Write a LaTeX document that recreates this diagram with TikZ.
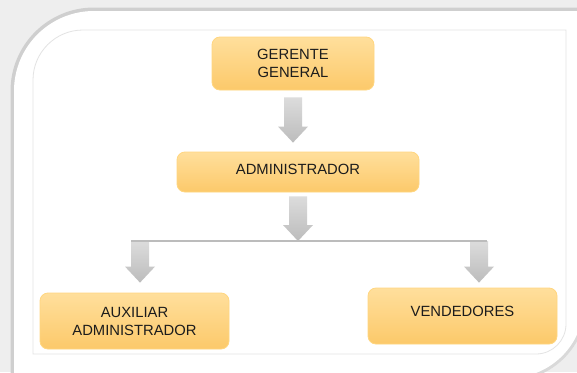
\documentclass[tikz,border=0pt]{standalone}
\usepackage{fontspec}
\setmainfont{Liberation Sans}
\usetikzlibrary{calc}
\definecolor{cajaarriba}{RGB}{255,223,156}
\definecolor{cajaabajo}{RGB}{252,201,106}
\definecolor{cajaborde}{RGB}{255,214,128}
\definecolor{flechaarriba}{RGB}{220,220,220}
\definecolor{flechaabajo}{RGB}{188,188,188}
\definecolor{texto}{RGB}{28,28,28}
% flecha gruesa vertical: #1 origen, #2 destino, #3 hueco arriba, #4 hueco abajo
\newcommand{\flechagruesa}[4]{%
\shade[flecha] let \p1=(#1), \p2=(#2) in
 (\x1-9pt,\y1-#3pt)--(\x1+9pt,\y1-#3pt)--(\x1+9pt,\y2+#4pt+16pt)--(\x1+15pt,\y2+#4pt+16pt)
 --(\x1,\y2+#4pt)--(\x1-15pt,\y2+#4pt+16pt)--(\x1-9pt,\y2+#4pt+16pt)--cycle;}
\begin{document}
\begin{tikzpicture}[x=1pt,y=-1pt,
 cargo/.style={draw=cajaborde,line width=0.8pt,rounded corners=8pt,top color=cajaarriba,bottom color=cajaabajo,
  text=texto,font=\fontsize{14.8}{18}\selectfont,align=center,inner sep=0pt},
 flecha/.style={top color=flechaarriba,bottom color=flechaabajo},
 rama/.style={draw=flechaabajo,line width=2.5pt}]
\useasboundingbox (0,0) rectangle (577,372);
% fondo y marco
\fill[gray!13] (0,0) rectangle (577,372);
\draw[gray!38,line width=7pt] (14,400)--(14,91) arc[start angle=180,end angle=90,radius=80pt]--(600,11)--(600,0);
\draw[gray!30,line width=6pt] (584,290)--(584,303) arc[start angle=0,end angle=-90,radius=75pt]--(480,378);
\fill[white] (14,400)--(14,91) arc[start angle=180,end angle=90,radius=80pt]--(584,11)--(584,303)
 arc[start angle=0,end angle=-90,radius=75pt]--(14,378)--cycle;
\draw[gray!22,line width=0.8pt] (33,354)--(33,80) arc[start angle=180,end angle=90,radius=50pt]--(566,30)--(566,324)
 arc[start angle=0,end angle=-90,radius=30pt]--cycle;
% cargos
\node[cargo,minimum width=162pt,minimum height=53pt] (gerente) at (293,63.5) {GERENTE\\GENERAL};
\node[cargo,minimum width=242pt,minimum height=40pt,text depth=5pt] (admin) at (298,172) {ADMINISTRADOR};
\node[cargo,minimum width=189pt,minimum height=56pt] (aux) at (134.5,321) {AUXILIAR\\ADMINISTRADOR};
\node[cargo,minimum width=189pt,minimum height=56pt,text depth=10pt] (vend) at (462.5,316) {VENDEDORES};
\coordinate (nudo) at (298,241);
\coordinate (ramaL) at (131,241);
\coordinate (ramaR) at (487,241);
\coordinate (bajaL) at (140,241);
\coordinate (bajaR) at (479,241);
% flechas
\flechagruesa{gerente.south}{admin.north}{7}{9}
\flechagruesa{admin.south}{nudo}{4}{0}
\flechagruesa{bajaL}{bajaL |- aux.north}{0}{10}
\flechagruesa{bajaR}{bajaR |- vend.north}{0}{5}
\draw[rama] (ramaL)--(ramaR);
\end{tikzpicture}
\end{document}
